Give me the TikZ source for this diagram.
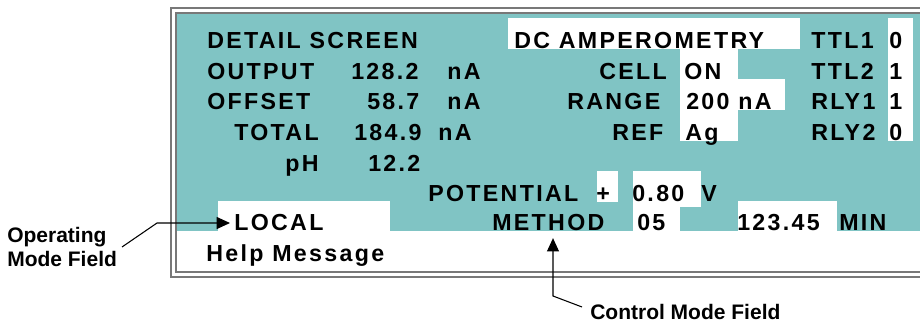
\documentclass[tikz,border=0pt]{standalone}
\usepackage{fontspec}
\setmainfont{Liberation Sans}
\newfontfamily\lcdfont[LetterSpace=10]{Liberation Sans}
\usetikzlibrary{arrows.meta}
\definecolor{lcdteal}{RGB}{128,196,196}
\definecolor{framegray}{RGB}{120,120,120}
\begin{document}
\begin{tikzpicture}[x = 0.75pt, y = -0.75pt,
    lcd/.style = {inner sep = 0pt, anchor = base west, font = \lcdfont\bfseries\fontsize{17.4pt}{20pt}\selectfont},
    note/.style = {inner sep = 0pt, anchor = base west, font = \bfseries\fontsize{15.75pt}{18pt}\selectfont},
    callout/.style = {-{Triangle[length = 10pt, width = 9pt]}, line width = 0.8pt}]
\useasboundingbox (0, 0) rectangle (920, 323);
\fill[lcdteal] (177, 14) rectangle (920, 231);
\foreach \x/\y/\u/\v in {508/18/800/49, 888/18/913/141, 680/49/738/141, 738/79/785/110, 597/171/618/202, 633/171/701/207, 633/207/680/231, 738/201/837/231, 218/201/390/231}
    {\fill[white] (\x, \y) rectangle (\u, \v);};
\draw[framegray, line width = 1pt] (920, 8) -- (171, 8) -- (171, 277) -- (920, 277);
\draw[framegray, line width = 1pt] (920, 13) -- (176, 13) -- (176, 272) -- (920, 272);
\node[lcd] (title) at (207, 49) {DETAIL SCREEN};
\node[lcd] (mode) at (514, 49) {DC AMPEROMETRY};
\node[lcd] (ttla) at (811, 49) {TTL1};
\node[lcd] (ttlaval) at (889, 49) {0};
\node[lcd] (output) at (207, 80) {OUTPUT};
\node[lcd] (outval) at (351, 80) {128.2};
\node[lcd] (outunit) at (447, 80) {nA};
\node[lcd] (cell) at (599, 80) {CELL};
\node[lcd] (cellval) at (684, 80) {ON};
\node[lcd] (ttlb) at (811, 80) {TTL2};
\node[lcd] (ttlbval) at (889, 80) {1};
\node[lcd] (offset) at (207, 110) {OFFSET};
\node[lcd] (offval) at (367, 110) {58.7};
\node[lcd] (offunit) at (447, 110) {nA};
\node[lcd] (range) at (567, 110) {RANGE};
\node[lcd] (rangeval) at (686, 110) {200 nA};
\node[lcd] (rlya) at (811, 110) {RLY1};
\node[lcd] (rlyaval) at (889, 110) {1};
\node[lcd] (total) at (234, 141) {TOTAL};
\node[lcd] (totval) at (354, 141) {184.9};
\node[lcd] (totunit) at (438, 141) {nA};
\node[lcd] (ref) at (612, 141) {REF};
\node[lcd] (refval) at (685, 141) {Ag};
\node[lcd] (rlyb) at (811, 141) {RLY2};
\node[lcd] (rlybval) at (889, 141) {0};
\node[lcd] (ph) at (285, 172) {pH};
\node[lcd] (phval) at (368, 172) {12.2};
\node[lcd] (potential) at (428, 202) {POTENTIAL};
\node[lcd] (sign) at (596, 202) {+};
\node[lcd] (potval) at (632, 202) {0.80};
\node[lcd] (potunit) at (701, 202) {V};
\node[lcd] (local) at (234, 231) {LOCAL};
\node[lcd] (method) at (492, 231) {METHOD};
\node[lcd] (methodval) at (637, 231) {05};
\node[lcd] (timer) at (737, 231) {123.45};
\node[lcd] (timeunit) at (839, 231) {MIN};
\node[lcd] (help) at (206, 262) {Help Message};
\node[note] (opmode) at (7, 243) {Operating};
\node[note] (opfield) at (7, 267) {Mode Field};
\node[note] (ctrlfield) at (590, 320) {Control Mode Field};
\coordinate (opstart) at (122, 247);
\coordinate (opbend) at (157, 222);
\coordinate (ctrlstart) at (582, 307);
\coordinate (ctrlbend) at (553, 296);
\draw[callout, shorten > = 3pt] (opstart) -- (opbend |- local.west) -- (local.west);
\draw[callout, shorten > = 5pt] (ctrlstart) -- (ctrlbend) -- (ctrlbend |- method.south);
\end{tikzpicture}
\end{document}
